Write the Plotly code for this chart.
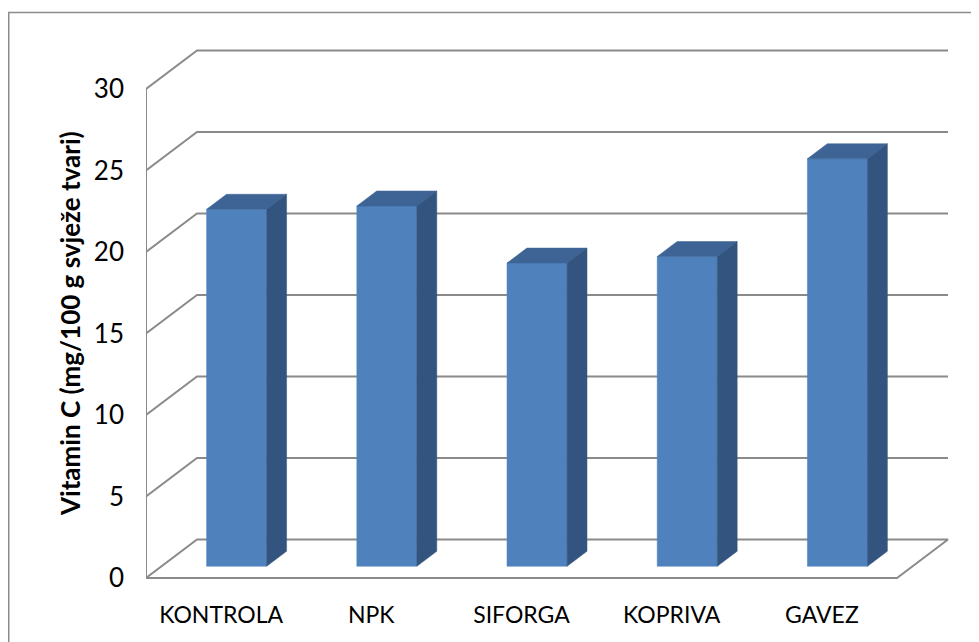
import plotly.graph_objects as go

# ---- data ----
categories = ["KONTROLA", "NPK", "SIFORGA", "KOPRIVA", "GAVEZ"]
vitamin_c = [21.9, 22.1, 18.6, 19.0, 25.0]
y_ticks = [0, 5, 10, 15, 20, 25, 30]
y_title = "Vitamin C (mg/100 g svježe tvari)"

# ---- layout geometry (page pixel targets) ----
PAGE_W, PAGE_H = 979, 642
OFF = 8                      # default body margin of the html page
W, H = PAGE_W - OFF, PAGE_H - OFF
PLOT_L, PLOT_R, PLOT_T, PLOT_B = 146, 959, 40, 588   # page px
ML, MR = PLOT_L - OFF, W - (PLOT_R - OFF)
MT, MB = PLOT_T - OFF, H - (PLOT_B - OFF)
PX_X = 150.2          # pixels per category (front plane)
PX_Y = 16.3           # pixels per value unit
Y0_PX = 578           # page row of value 0 on the front plane
DEPTH_PX = (51, 38.5) # oblique depth offset of the whole floor
DX = DEPTH_PX[0] / PX_X
DY = DEPTH_PX[1] / PX_Y
BAR_W = 0.4
BAR_FRONT = 0.305
BAR_DEPTH = 0.39

PW = PLOT_R - PLOT_L
PH = PLOT_B - PLOT_T
x_range = [0, PW / PX_X]
y_range = [-(PLOT_B - Y0_PX) / PX_Y, (Y0_PX - PLOT_T) / PX_Y]

FONT = "Lato, Carlito, Calibri, sans-serif"
GRID = "#8a8a8a"
n = len(categories)
ymax = max(y_ticks)

fig = go.Figure()

# walls / gridlines
gx, gy = [], []
for v in y_ticks:
    if v > 0:
        gx += [0, DX, n + DX, None]
        gy += [v, v + DY, v + DY, None]
# floor
gx += [0, n, n + DX, DX, 0, None]
gy += [0, 0, DY, DY, 0, None]
# front left axis edge
gx += [0, 0, None]
gy += [0, ymax, None]
fig.add_trace(go.Scatter(x=gx, y=gy, mode="lines", line=dict(color=GRID, width=2),
                         hoverinfo="skip", showlegend=False, cliponaxis=False))

# bars (front, top, side faces)
centers = [i + 0.5 + BAR_FRONT * DX for i in range(n)]
yb = BAR_FRONT * DY
ddx = BAR_DEPTH * DX
ddy = BAR_DEPTH * DY


def face(xs, ys, color):
    fig.add_trace(go.Scatter(x=xs, y=ys, fill="toself", fillcolor=color, mode="lines",
                             line=dict(width=0.5, color=color),
                             hoverinfo="skip", showlegend=False))


for cx, v in zip(centers, vitamin_c):
    x0, x1 = cx - BAR_W / 2, cx + BAR_W / 2
    yt = yb + v
    face([x0, x1, x1, x0, x0], [yb, yb, yt, yt, yb], "#4F81BD")
    face([x0, x1, x1 + ddx, x0 + ddx, x0], [yt, yt, yt + ddy, yt + ddy, yt], "#3D6494")
    face([x1, x1 + ddx, x1 + ddx, x1, x1], [yb, yb + ddy, yt + ddy, yt, yb], "#33547E")

fig.update_layout(
    width=W, height=H,
    margin=dict(l=ML, r=MR, t=MT, b=MB, pad=0),
    paper_bgcolor="white", plot_bgcolor="white",
    font=dict(family=FONT, size=24, color="black"),
    xaxis=dict(range=x_range, tickvals=[i + 0.5 for i in range(n)], ticktext=categories,
               showgrid=False, zeroline=False, showline=False, ticks="",
               ticklabelstandoff=11, fixedrange=True, tickfont=dict(size=23)),
    yaxis=dict(range=y_range, tickvals=y_ticks, showgrid=False, zeroline=False,
               showline=False, ticks="", ticklabelstandoff=21, fixedrange=True,
               tickfont=dict(size=26)),
    annotations=[dict(text="<b>" + y_title + "</b>", textangle=-90,
                      xref="paper", yref="paper",
                      x=(70 - PLOT_L) / PW, y=(PLOT_B - 324) / PH,
                      xanchor="center", yanchor="middle", showarrow=False,
                      font=dict(family=FONT, size=26, color="black"))],
    shapes=[dict(type="rect", xref="paper", yref="paper",
                 x0=(8.75 - PLOT_L) / PW, x1=(PAGE_W + 20 - PLOT_L) / PW,
                 y0=(PLOT_B - (PAGE_H + 20)) / PH, y1=(PLOT_B - 12.5) / PH,
                 line=dict(color="#8c8c8c", width=1.5), fillcolor="rgba(0,0,0,0)",
                 layer="below")],
)

fig.write_html("out.html")
